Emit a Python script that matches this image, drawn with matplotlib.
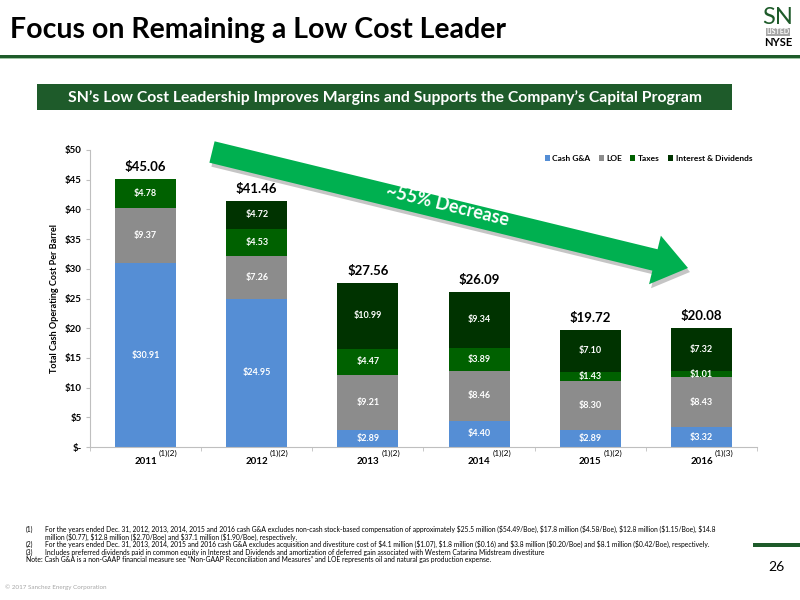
import matplotlib
matplotlib.use("Agg")
import matplotlib.pyplot as plt
from matplotlib import font_manager as fm
from matplotlib.patches import FancyArrow, Rectangle
import numpy as np

names = {f.name for f in fm.fontManager.ttflist}
NARROW = "Liberation Sans Narrow" if "Liberation Sans Narrow" in names else "Lato"
MAIN = "Lato" if "Lato" in names else "DejaVu Sans"
plt.rcParams["font.family"] = [MAIN, "DejaVu Sans"]
plt.rcParams["text.parse_math"] = False

years = ["2011", "2012", "2013", "2014", "2015", "2016"]
notes = ["(1)(2)", "(1)(2)", "(1)(2)", "(1)(2)", "(1)(2)", "(1)(3)"]
cash_ga = [30.91, 24.95, 2.89, 4.40, 2.89, 3.32]
loe = [9.37, 7.26, 9.21, 8.46, 8.30, 8.43]
taxes = [4.78, 4.53, 4.47, 3.89, 1.43, 1.01]
interest = [0.0, 4.72, 10.99, 9.34, 7.10, 7.32]
totals = ["$45.06", "$41.46", "$27.56", "$26.09", "$19.72", "$20.08"]
series_names = ["Cash G&A", "LOE", "Taxes", "Interest & Dividends"]
colors = ["#558ED5", "#8C8C8C", "#006100", "#003300"]
yticks = [0, 5, 10, 15, 20, 25, 30, 35, 40, 45, 50]
ytick_labels = ["$-", "$5", "$10", "$15", "$20", "$25", "$30", "$35", "$40", "$45", "$50"]

W, H = 800, 600
fig = plt.figure(figsize=(8, 6), dpi=100)

# chart axes
ax = fig.add_axes([90 / W, 1 - 447 / H, (757 - 90) / W, (447 - 150) / H])
x = np.arange(len(years))
bottom = np.zeros(len(years))
data = [cash_ga, loe, taxes, interest]
for vals, c, name in zip(data, colors, series_names):
    vals = np.array(vals)
    ax.bar(x, vals, 0.55, bottom=bottom, color=c, label=name, zorder=2)
    for xi, v, b in zip(x, vals, bottom):
        if v > 0:
            ax.text(xi, b + v / 2, f"${v:.2f}", ha="center", va="center",
                    color="white", fontsize=6.5, fontweight="bold", family=NARROW)
    bottom += vals
for xi, tot, t in zip(x, bottom, totals):
    ax.text(xi, tot + 1.0, t, ha="center", va="bottom", fontsize=9.5,
            fontweight="bold", color="black")

ax.set_xlim(-0.5, len(years) - 0.5)
ax.set_ylim(0, 50)
ax.set_yticks(yticks)
ax.set_yticklabels(ytick_labels, fontsize=7, fontweight="bold")
ax.set_xticks(x)
ax.set_xticklabels([])
ax.set_xticks(np.arange(-0.5, len(years), 1.0), minor=True)
ax.tick_params(axis="x", which="major", length=0)
ax.tick_params(axis="x", which="minor", length=3, color="#BFBFBF")
ax.tick_params(axis="y", length=3, color="#BFBFBF", pad=3)
for xi, yr, n in zip(x, years, notes):
    ax.text(xi, -1.6, yr, ha="center", va="top", fontsize=7, fontweight="bold")
    ax.text(xi + 0.12, -0.5, n, ha="left", va="top", fontsize=6)
for s in ["top", "right"]:
    ax.spines[s].set_visible(False)
ax.spines["left"].set_color("#BFBFBF")
ax.spines["bottom"].set_color("#BFBFBF")
ax.set_ylabel("Total Cash Operating Cost Per Barrel", fontsize=6.5, fontweight="bold", labelpad=4)
leg = ax.legend(loc="upper right", bbox_to_anchor=(1.0, 1.0), ncol=4, frameon=False,
                fontsize=6, handlelength=0.6, handleheight=0.6, handletextpad=0.3,
                columnspacing=1.0, borderaxespad=0.2)
for t in leg.get_texts():
    t.set_fontweight("bold")

# overlay for decoration in pixel coordinates
ov = fig.add_axes([0, 0, 1, 1], zorder=5)
ov.set_xlim(0, W)
ov.set_ylim(H, 0)
ov.axis("off")
ov.patch.set_alpha(0)

# title
ov.text(10, 30, "Focus on Remaining a Low Cost Leader", fontsize=20.5, fontweight="bold",
        ha="left", va="center", color="black")
ov.add_patch(Rectangle((0, 55), W, 3, color="#1E5B2A", lw=0))
ov.add_patch(Rectangle((0, 58), W, 1, color="#9FC5A5", lw=0))
# logo
ov.text(778, 17, "SN", fontsize=17, color="#1E5B2A", ha="center", va="center")
ov.text(778, 32, "LISTED", fontsize=5, color="white", ha="center", va="center", fontweight="bold",
        bbox=dict(boxstyle="square,pad=0.1", fc="#A6A6A6", ec="none"))
ov.text(778, 42, "NYSE", fontsize=8, color="black", ha="center", va="center", fontweight="bold")

# banner
ov.add_patch(Rectangle((37, 84), 732 - 37, 26, color="#1E5B2A", lw=0))
ov.text(385, 97.5, "SN\u2019s Low Cost Leadership Improves Margins and Supports the Company\u2019s Capital Program",
        fontsize=11.3, fontweight="bold", color="white", ha="center", va="center")

# arrow
x0, y0, x1, y1 = 212, 152, 688, 268
ov.add_patch(FancyArrow(x0 + 2, y0 + 4, x1 - x0, y1 - y0, width=22, head_width=50, head_length=34,
                        length_includes_head=True, color="#7F7F7F", alpha=0.45, lw=0))
ov.add_patch(FancyArrow(x0, y0, x1 - x0, y1 - y0, width=22, head_width=50, head_length=34,
                        length_includes_head=True, color="#00B050", lw=0))
ang = np.degrees(np.arctan2(y1 - y0, x1 - x0))
ov.text(447, 206, "~55% Decrease", fontsize=13, fontweight="bold", color="white",
        rotation=-ang, rotation_mode="anchor", ha="center", va="center")

# footnotes
FS = 4.9
fn = [
    (529, "(1)", "For the years ended Dec. 31, 2012, 2013, 2014, 2015 and 2016 cash G&A excludes non-cash stock-based compensation of approximately $25.5 million ($54.49/Boe), $17.8 million ($4.58/Boe), $12.8 million ($1.15/Boe), $14.8"),
    (537, "", "million ($0.77), $12.8 million ($2.70/Boe) and $37.1 million ($1.90/Boe), respectively."),
    (544.5, "(2)", "For the years ended Dec. 31, 2013, 2014, 2015 and 2016 cash G&A excludes acquisition and divestiture cost of $4.1 million ($1.07), $1.8 million ($0.16) and $3.8 million ($0.20/Boe) and $8.1 million ($0.42/Boe), respectively."),
    (552, "(3)", "Includes preferred dividends paid in common equity in Interest and Dividends and amortization of deferred gain associated with Western Catarina Midstream divestiture"),
]
for yy, lab, txt in fn:
    if lab:
        ov.text(26, yy, lab, fontsize=FS, ha="left", va="center", family=NARROW)
    ov.text(45, yy, txt, fontsize=FS, ha="left", va="center", family=NARROW)
ov.text(26, 559.5, "Note: Cash G&A is a non-GAAP financial measure see \u201cNon-GAAP Reconciliation and Measures\u201d and LOE represents oil and natural gas production expense.",
        fontsize=FS, ha="left", va="center", family=NARROW)
ov.text(5, 587, "\u00a9 2017 Sanchez Energy Corporation", fontsize=4.5, color="#A6A6A6",
        ha="left", va="center", family=NARROW)

# page number
ov.add_patch(Rectangle((753, 543), 47, 4, color="#1E5B2A", lw=0))
ov.text(776, 567, "26", fontsize=10, ha="center", va="center")

fig.savefig("out.png", dpi=100)
